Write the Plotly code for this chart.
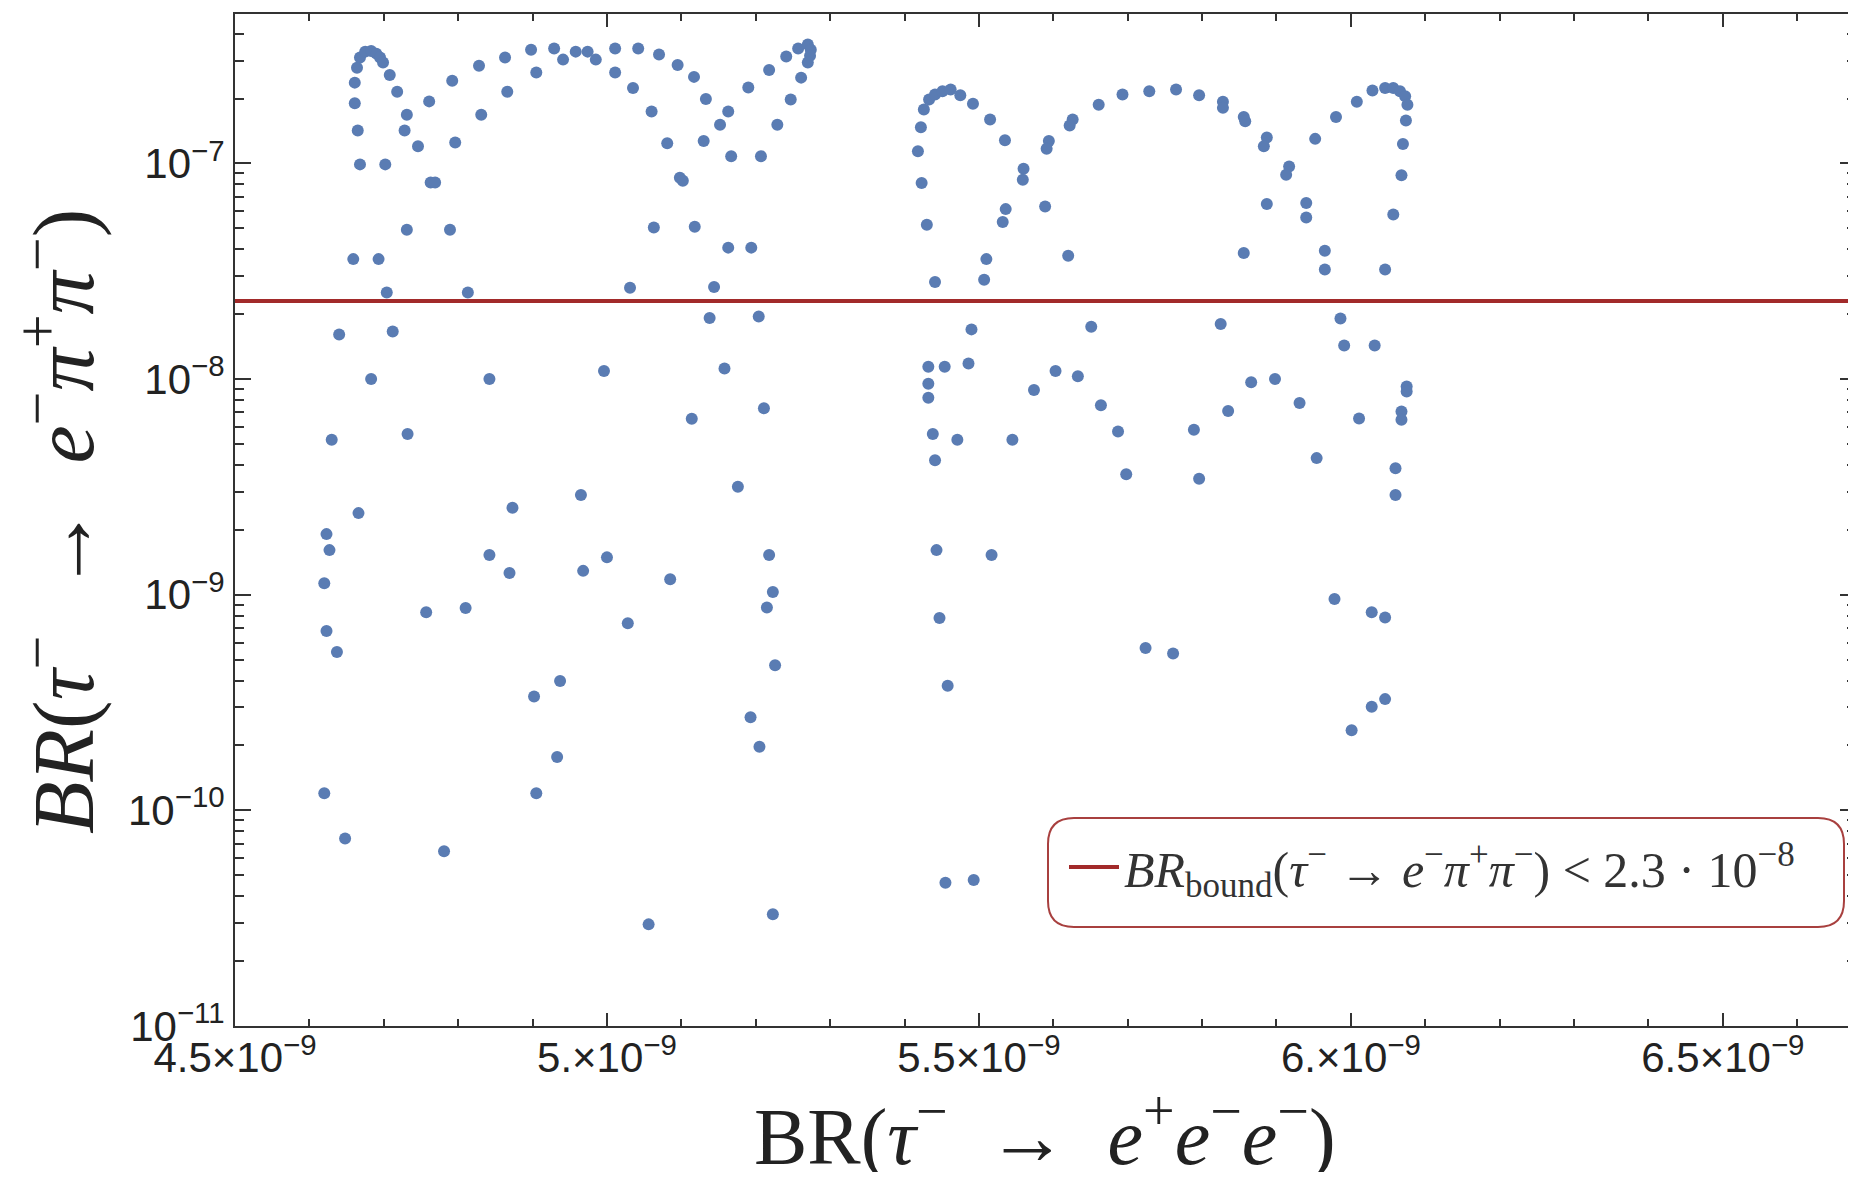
import numpy as np
import plotly.graph_objects as go

# ---------------- data ----------------
# BR(tau -> e+ e- e-) in units of 1e-9, left cluster
br_eee_left = [
    4.661, 4.661, 4.664, 4.668, 4.675, 4.683, 4.690, 4.695, 4.699, 4.708,
    4.718, 4.731, 4.665, 4.668, 4.702, 4.728, 4.746, 4.761, 4.763, 4.769,
    4.792, 4.796, 4.828, 4.831, 4.863, 4.866, 4.898, 4.905, 4.929, 4.941,
    4.958, 4.974, 4.985, 5.011, 5.011, 5.035, 5.042, 5.060, 5.070, 5.081,
    5.095, 5.098, 5.102, 5.117, 5.133, 5.130, 5.163, 5.152, 5.167, 5.207,
    5.190, 5.218, 5.241, 5.257, 5.270, 5.274, 5.273, 5.270, 5.261, 5.247,
    5.229,
    5.118, 5.063, 4.731, 4.789, 4.659, 4.693, 4.704, 4.813, 5.031, 5.163,
    5.194, 5.144, 4.640, 4.712, 5.138, 5.204, 4.683, 4.842, 4.996, 5.158,
    5.211, 5.114, 4.630, 4.732, 4.666, 4.623, 4.627, 4.620, 4.623, 4.637,
    4.757, 4.810, 4.873, 4.842, 4.869, 4.965, 4.968, 5.000, 5.085, 5.028,
    4.937, 4.902, 4.933, 4.905, 4.620, 4.648, 4.781, 5.056, 5.176, 5.218,
    5.223, 5.215, 5.226, 5.193, 5.205, 5.223,
]
# BR(tau -> e- pi+ pi-), left cluster
br_epipi_left = [
    1.90e-7, 2.37e-7, 2.78e-7, 3.10e-7, 3.30e-7, 3.32e-7, 3.23e-7, 3.10e-7, 2.94e-7, 2.57e-7,
    2.15e-7, 1.68e-7, 1.42e-7, 9.9e-8, 9.9e-8, 1.42e-7, 1.20e-7, 1.94e-7, 8.15e-8, 8.15e-8,
    2.42e-7, 1.25e-7, 2.84e-7, 1.68e-7, 3.10e-7, 2.15e-7, 3.37e-7, 2.64e-7, 3.41e-7, 3.03e-7,
    3.30e-7, 3.30e-7, 3.03e-7, 3.41e-7, 2.64e-7, 2.24e-7, 3.41e-7, 1.74e-7, 3.20e-7, 1.24e-7,
    2.86e-7, 8.59e-8, 8.32e-8, 2.52e-7, 1.99e-7, 1.27e-7, 1.74e-7, 1.51e-7, 1.08e-7, 1.08e-7,
    2.25e-7, 2.71e-7, 3.13e-7, 3.41e-7, 3.56e-7, 3.37e-7, 3.16e-7, 2.94e-7, 2.50e-7, 1.98e-7,
    1.51e-7,
    5.09e-8, 5.04e-8, 4.93e-8, 4.93e-8, 3.60e-8, 3.60e-8, 2.52e-8, 2.52e-8, 2.65e-8, 4.07e-8,
    4.07e-8, 2.67e-8, 1.61e-8, 1.66e-8, 1.92e-8, 1.95e-8, 1.00e-8, 1.00e-8, 1.09e-8, 1.12e-8,
    7.32e-9, 6.54e-9, 5.23e-9, 5.56e-9, 2.39e-9, 1.91e-9, 1.61e-9, 1.13e-9, 6.79e-10, 5.43e-10,
    8.29e-10, 8.68e-10, 2.53e-9, 1.53e-9, 1.26e-9, 2.90e-9, 1.29e-9, 1.49e-9, 1.18e-9, 7.37e-10,
    3.98e-10, 3.37e-10, 1.77e-10, 1.20e-10, 1.20e-10, 7.41e-11, 6.47e-11, 2.96e-11, 3.17e-9, 1.53e-9,
    1.03e-9, 8.72e-10, 4.71e-10, 2.70e-10, 1.97e-10, 3.30e-11,
]
# right cluster
br_eee_right = [
    5.430, 5.423, 5.418, 5.422, 5.426, 5.433, 5.441, 5.451, 5.462, 5.475,
    5.492, 5.515, 5.535, 5.560, 5.559, 5.536, 5.532, 5.510, 5.507, 5.441,
    5.589, 5.594, 5.591, 5.626, 5.622, 5.661, 5.620, 5.490, 5.432, 5.454,
    5.486, 5.432, 5.432, 5.603, 5.633, 5.574, 5.651, 5.664, 5.693, 5.729,
    5.765, 5.796, 5.828, 5.828, 5.856, 5.858, 5.887, 5.883, 5.917, 5.913,
    5.887, 5.940, 5.940, 5.952, 5.980, 6.008, 6.029, 6.046, 6.057, 6.066,
    6.073, 6.076, 6.074, 6.070, 6.068, 6.057, 5.856, 5.965, 5.965, 6.046,
    5.825, 5.986, 5.991, 6.032, 5.866, 5.898, 5.931, 5.835, 6.075, 6.075,
    6.068, 6.068, 6.011, 5.438, 5.471, 5.545, 5.441, 5.443, 5.517, 5.447,
    5.458, 5.455, 5.493, 5.687, 5.789, 5.698, 5.796, 5.954, 6.060, 6.060,
    5.978, 6.028, 6.046, 5.724, 5.761, 6.046, 6.028, 6.001,
]
br_epipi_right = [
    5.20e-8, 8.12e-8, 1.14e-7, 1.47e-7, 1.78e-7, 1.98e-7, 2.09e-7, 2.16e-7, 2.20e-7, 2.07e-7,
    1.89e-7, 1.60e-7, 1.28e-7, 9.46e-8, 8.41e-8, 6.14e-8, 5.35e-8, 3.60e-8, 2.89e-8, 2.82e-8,
    6.32e-8, 1.27e-7, 1.17e-7, 1.60e-7, 1.50e-7, 1.87e-7, 3.73e-8, 1.70e-8, 1.14e-8, 1.14e-8,
    1.18e-8, 9.51e-9, 8.19e-9, 1.09e-8, 1.03e-8, 8.90e-9, 1.75e-8, 7.56e-9, 2.09e-7, 2.16e-7,
    2.20e-7, 2.07e-7, 1.93e-7, 1.81e-7, 1.64e-7, 1.57e-7, 1.32e-7, 1.20e-7, 9.69e-8, 8.87e-8,
    6.49e-8, 6.56e-8, 5.62e-8, 1.30e-7, 1.64e-7, 1.93e-7, 2.18e-7, 2.24e-7, 2.24e-7, 2.16e-7,
    2.05e-7, 1.87e-7, 1.58e-7, 1.23e-7, 8.81e-8, 5.79e-8, 3.84e-8, 3.94e-8, 3.22e-8, 3.22e-8,
    1.80e-8, 1.91e-8, 1.43e-8, 1.43e-8, 9.67e-9, 1.00e-8, 7.74e-9, 7.11e-9, 9.24e-9, 8.76e-9,
    7.07e-9, 6.47e-9, 6.56e-9, 5.56e-9, 5.23e-9, 5.23e-9, 4.20e-9, 1.61e-9, 1.53e-9, 7.80e-10,
    3.78e-10, 4.62e-11, 4.75e-11, 5.71e-9, 5.82e-9, 3.62e-9, 3.45e-9, 4.30e-9, 3.86e-9, 2.90e-9,
    9.56e-10, 8.29e-10, 7.84e-10, 5.66e-10, 5.34e-10, 3.28e-10, 3.02e-10, 2.35e-10,
]

bound_value = 2.3e-8

x_range = [4.5e-9, 6.679e-9]
y_range_log = [-11, -6.307]

x_tick_vals = [4.5e-9, 5.0e-9, 5.5e-9, 6.0e-9, 6.5e-9]
x_tick_text = ["4.5\u00d710<sup>\u22129</sup>", "5.\u00d710<sup>\u22129</sup>",
               "5.5\u00d710<sup>\u22129</sup>", "6.\u00d710<sup>\u22129</sup>",
               "6.5\u00d710<sup>\u22129</sup>"]
y_tick_vals = [1e-11, 1e-10, 1e-9, 1e-8, 1e-7]
y_tick_text = ["10<sup>\u221211</sup>", "10<sup>\u221210</sup>", "10<sup>\u22129</sup>",
               "10<sup>\u22128</sup>", "10<sup>\u22127</sup>"]

# ---------------- figure ----------------
x_all = np.array(br_eee_left + br_eee_right) * 1e-9
y_all = np.array(br_epipi_left + br_epipi_right)

# the page body has an 8px margin: size the figure so the page does not scroll
OFF = 8
W, H = 1848, 1164
ML, MR, MT, MB = 227, 0, 6, 146
PW, PH = W - ML - MR, H - MT - MB

def page_to_paper(px, py):
    """convert a position on the page to paper coordinates"""
    return (px - OFF - ML) / PW, (OFF + H - MB - py) / PH

dot_color = "#5A7CB3"
bound_color = "#A22A2A"
frame_color = "#333333"
label_color = "#222222"
ens = "\u2002"

fig = go.Figure()
fig.add_trace(go.Scatter(
    x=x_all, y=y_all, mode="markers",
    marker=dict(size=12, color=dot_color),
    showlegend=False, cliponaxis=True,
))
fig.add_trace(go.Scatter(
    x=x_range, y=[bound_value, bound_value], mode="lines",
    line=dict(color=bound_color, width=4),
    name=("<i>BR</i><sub>bound</sub>(<i>\u03c4</i><sup>\u2212</sup> \u2192 "
          "<i>e</i><sup>\u2212</sup><i>\u03c0</i><sup>+</sup><i>\u03c0</i><sup>\u2212</sup>)"
          " &lt; 2.3 \u00b7 10<sup>\u22128</sup>"),
    showlegend=True,
))

minor_y = [m * 10.0 ** e for e in range(-11, -6) for m in range(2, 10)]

axis_common = dict(
    showline=True, linecolor=frame_color, linewidth=2, mirror="ticks",
    ticks="inside", tickcolor=frame_color, tickwidth=2,
    showgrid=False, zeroline=False, automargin=False,
    tickfont=dict(family="Liberation Sans, Arial, sans-serif", size=42, color=label_color),
)

fig.update_xaxes(
    range=x_range, tickmode="array", tickvals=x_tick_vals, ticktext=x_tick_text,
    ticklen=13, ticklabelstandoff=-6,
    minor=dict(tickmode="linear", tick0=4.5e-9, dtick=1e-10, ticks="inside",
               ticklen=7, tickwidth=1.5, tickcolor=frame_color),
    **axis_common,
)
fig.update_yaxes(
    type="log", range=y_range_log, tickmode="array", tickvals=y_tick_vals,
    ticktext=y_tick_text, ticklen=16,
    minor=dict(tickmode="array", tickvals=minor_y, ticks="inside",
               ticklen=9, tickwidth=1.5, tickcolor=frame_color),
    **axis_common,
)

# axis titles
yt_x, _ = page_to_paper(57, 0)
_, yt_y = page_to_paper(0, 522)
_, xt_y = page_to_paper(0, 1131)
xt_x, _ = page_to_paper(1045, 0)
fig.add_annotation(
    text=("<i>BR</i>(<i>\u03c4</i><sup>\u2212</sup>" + ens + "\u2192" + ens +
          "<i>e</i><sup>\u2212</sup><i>\u03c0</i><sup>+</sup><i>\u03c0</i><sup>\u2212</sup>)"),
    xref="paper", yref="paper", x=yt_x, y=yt_y, textangle=-90,
    xanchor="center", yanchor="middle", showarrow=False,
    font=dict(family="Liberation Serif, DejaVu Serif, serif", size=86, color=label_color),
)
fig.add_annotation(
    text=("BR(<i>\u03c4</i><sup>\u2212</sup>" + ens + "\u2192" + ens + "<i>e</i><sup>+</sup>"
          "<i>e</i><sup>\u2212</sup><i>e</i><sup>\u2212</sup>)"),
    xref="paper", yref="paper", x=xt_x, y=xt_y,
    xanchor="center", yanchor="middle", showarrow=False,
    font=dict(family="Liberation Serif, DejaVu Serif, serif", size=80, color=label_color),
)

# rounded legend frame
bx0, by0 = page_to_paper(1048, 927)
bx1, by1 = page_to_paper(1844, 818)
rad = 26
rx, ry = rad / PW, rad / PH
path = (f"M {bx0+rx},{by0} L {bx1-rx},{by0} Q {bx1},{by0} {bx1},{by0+ry} "
        f"L {bx1},{by1-ry} Q {bx1},{by1} {bx1-rx},{by1} L {bx0+rx},{by1} "
        f"Q {bx0},{by1} {bx0},{by1-ry} L {bx0},{by0+ry} Q {bx0},{by0} {bx0+rx},{by0} Z")
fig.add_shape(type="path", path=path, xref="paper", yref="paper",
              line=dict(color="#A8403F", width=2), fillcolor="white", layer="below")

lx, ly = page_to_paper(1064, 867)
fig.update_layout(
    width=W, height=H,
    margin=dict(l=ML, r=MR, t=MT, b=MB, autoexpand=False),
    plot_bgcolor="white", paper_bgcolor="white",
    showlegend=True,
    legend=dict(
        x=lx, y=ly, xanchor="left", yanchor="middle",
        bgcolor="rgba(0,0,0,0)", borderwidth=0,
        font=dict(family="Liberation Serif, DejaVu Serif, serif", size=50, color="#333333"),
        itemwidth=50,
    ),
)

fig.write_html("out.html")
